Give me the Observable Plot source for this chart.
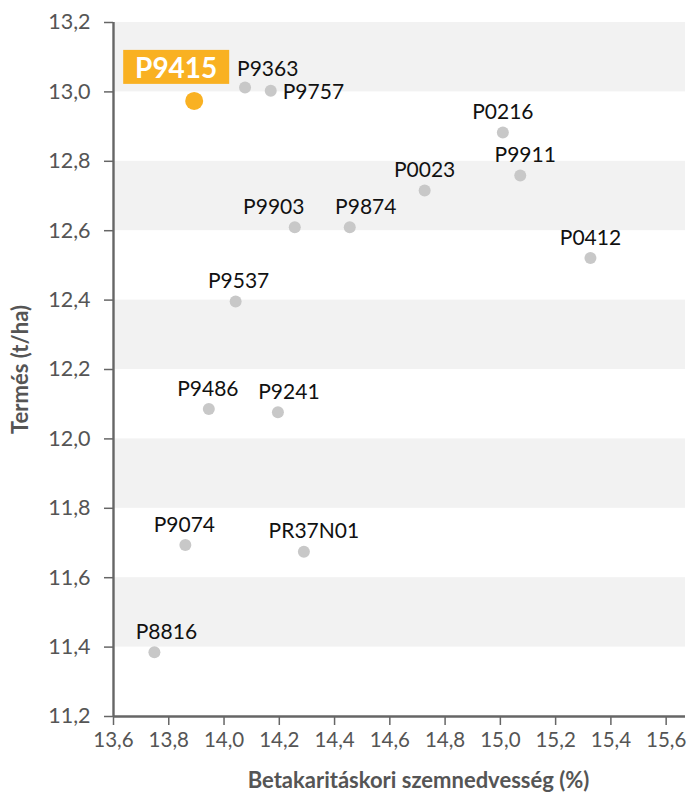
<!DOCTYPE html>
<html>
<head>
<meta charset="utf-8">
<script src="https://cdn.jsdelivr.net/npm/d3@7"></script>
<script src="https://cdn.jsdelivr.net/npm/@observablehq/plot@0.6"></script>
<style>
  html, body { margin: 0; padding: 0; background: #fff; }
  #chart { width: 687px; height: 801px; }
</style>
</head>
<body>
<div id="chart"></div>
<script>
const names = ["P9415","P9363","P9757","P0216","P9911","P0023","P9903","P9874","P0412","P9537","P9486","P9241","P9074","PR37N01","P8816"];
const moisture = [13.892,14.076,14.169,15.009,15.072,14.726,14.256,14.455,15.326,14.042,13.945,14.195,13.860,14.289,13.748];
const yieldT = [12.974,13.013,13.003,12.883,12.759,12.716,12.610,12.610,12.521,12.396,12.086,12.077,11.694,11.675,11.385];
const highlight = "P9415";
const xTicks = [13.6,13.8,14.0,14.2,14.4,14.6,14.8,15.0,15.2,15.4,15.6];
const yTicks = [11.2,11.4,11.6,11.8,12.0,12.2,12.4,12.6,12.8,13.0,13.2];
const xTitle = "Betakaritáskori szemnedvesség (%)";
const yTitle = "Termés (t/ha)";

// label placement offsets (styling, not data)
const labelStyle = {
  P9363: {dx: -8, dy: -18, anchor: "start"},
  P9757: {dx: 12, dy: 1, anchor: "start"},
  P0216: {dx: 0, dy: -20, anchor: "middle"},
  P9911: {dx: 5, dy: -20, anchor: "middle"},
  P0023: {dx: 0, dy: -20, anchor: "middle"},
  P9903: {dx: -21, dy: -20, anchor: "middle"},
  P9874: {dx: 16, dy: -20, anchor: "middle"},
  P0412: {dx: 0, dy: -20, anchor: "middle"},
  P9537: {dx: 3, dy: -20, anchor: "middle"},
  P9486: {dx: -1, dy: -20, anchor: "middle"},
  P9241: {dx: 11, dy: -20, anchor: "middle"},
  P9074: {dx: -1, dy: -20, anchor: "middle"},
  PR37N01: {dx: 10, dy: -20, anchor: "middle"},
  P8816: {dx: 12, dy: -20, anchor: "middle"}
};

const data = names.map((n, i) => ({name: n, x: moisture[i], y: yieldT[i]}));
const others = data.filter(d => d.name !== highlight);
const hi = data.filter(d => d.name === highlight);

const bands = [];
for (let i = yTicks.length - 1; i > 0; i -= 2) bands.push({y1: yTicks[i - 1], y2: yTicks[i]});

const fmt = d => d.toFixed(1).replace(".", ",");
const font = "Lato, 'Noto Sans', sans-serif";

const labelMarks = Object.entries(labelStyle).map(([n, s]) =>
  Plot.text(others.filter(d => d.name === n), {
    x: "x", y: "y", text: "name", dx: s.dx, dy: s.dy, textAnchor: s.anchor,
    fill: "#111", fontSize: 21
  })
);

const plot = Plot.plot({
  width: 687,
  height: 801,
  marginLeft: 113,
  marginRight: 2,
  marginTop: 22,
  marginBottom: 85,
  style: {fontFamily: font, background: "#fff", overflow: "visible"},
  x: {domain: [13.6, 15.67]},
  y: {domain: [11.2, 13.2]},
  marks: [
    Plot.rect(bands, {y1: "y1", y2: "y2", fill: "#F2F2F2"}),
    Plot.axisX({ticks: xTicks, tickFormat: fmt, tickSize: 9, tickPadding: 7, stroke: "#666", strokeWidth: 1.5, fill: "#555", fontSize: 20.5, label: null}),
    Plot.axisY({ticks: yTicks, tickFormat: fmt, tickSize: 9, tickPadding: 14, stroke: "#666", strokeWidth: 1.5, fill: "#555", fontSize: 21.5,
      label: yTitle, labelAnchor: "center", labelArrow: "none", labelOffset: 101}),
    Plot.ruleX([13.6], {stroke: "#666", strokeWidth: 2.4}),
    Plot.ruleY([11.2], {stroke: "#666", strokeWidth: 2.4}),
    Plot.text([xTitle], {frameAnchor: "bottom", dy: 71, dx: 19, fill: "#555", fontSize: 22, fontWeight: "bold"}),
    Plot.dot(others, {x: "x", y: "y", r: 6, fill: "#C8C8C8"}),
    ...labelMarks,
    Plot.dot(hi, {x: "x", y: "y", r: 9, fill: "#F9B122"}),
    Plot.text(hi, {x: "x", y: "y", text: "name", dx: -18, dy: -32, fill: "#fff", fontSize: 28, fontWeight: "bold"})
  ]
});

// style the y-axis title
plot.querySelectorAll('g[aria-label="y-axis label"] text').forEach(t => {
  t.setAttribute("font-weight", "bold");
  t.setAttribute("font-size", "22");
  t.setAttribute("fill", "#555");
});

document.getElementById("chart").appendChild(plot);

// orange box behind the highlighted label
plot.querySelectorAll("text").forEach(t => {
  if (t.textContent !== highlight) return;
  const b = t.getBBox();
  const rect = document.createElementNS("http://www.w3.org/2000/svg", "rect");
  const cx = b.x + b.width / 2;
  const cy = b.y + b.height / 2;
  const w = 106, h = 34;
  rect.setAttribute("x", cx - w / 2);
  rect.setAttribute("y", cy - h / 2);
  rect.setAttribute("width", w);
  rect.setAttribute("height", h);
  rect.setAttribute("fill", "#F9B122");
  const tr = t.getAttribute("transform");
  if (tr) rect.setAttribute("transform", tr);
  t.parentNode.insertBefore(rect, t);
});
</script>
</body>
</html>
